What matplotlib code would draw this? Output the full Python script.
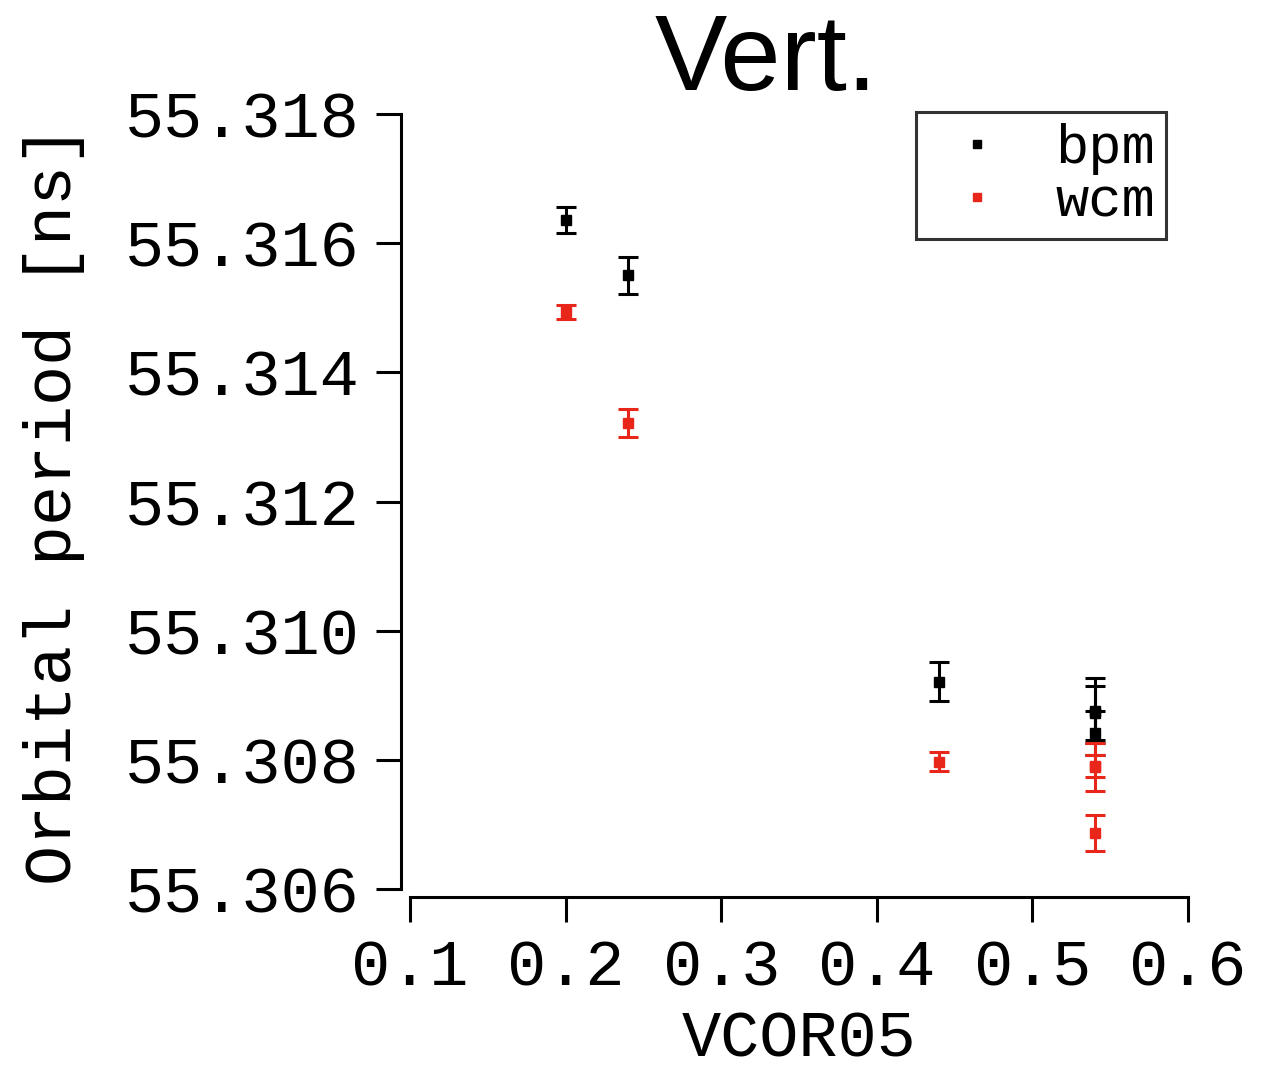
import matplotlib
matplotlib.use("Agg")
import matplotlib.pyplot as plt

# Data
bpm_x = [0.20, 0.24, 0.44, 0.54, 0.54, 0.54]
bpm_y = [55.31636, 55.31550, 55.30921, 55.30876, 55.30873, 55.30842]
bpm_err = [0.00020, 0.00028, 0.00030, 0.00050, 0.00042, 0.00034]

wcm_x = [0.20, 0.24, 0.44, 0.54, 0.54, 0.54]
wcm_y = [55.31493, 55.31322, 55.30797, 55.30789, 55.30790, 55.30687]
wcm_err = [0.00011, 0.00022, 0.00015, 0.00037, 0.00017, 0.00028]

x_ticks = [0.1, 0.2, 0.3, 0.4, 0.5, 0.6]
y_ticks = [55.306, 55.308, 55.310, 55.312, 55.314, 55.316, 55.318]

RED = "#e8261a"
MONO = "Liberation Mono"

W, H = 1271, 1067
fig = plt.figure(figsize=(W / 100, H / 100), dpi=100)
ax = fig.add_axes([410 / W, (H - 889) / H, (1188 - 410) / W, (889 - 114) / H])

for xs, ys, es, col, lab in [(bpm_x, bpm_y, bpm_err, "black", "bpm"),
                             (wcm_x, wcm_y, wcm_err, RED, "wcm")]:
    ax.errorbar(xs, ys, yerr=es, fmt="none", ecolor=col, elinewidth=2.2,
                capsize=7, capthick=2.2)
    ax.plot(xs, ys, "s", color=col, markersize=6.5, label=lab, linestyle="none")

ax.set_xlim(0.1, 0.6)
ax.set_ylim(55.306, 55.318)
ax.set_xticks(x_ticks)
ax.set_xticklabels([f"{v:.1f}" for v in x_ticks])
ax.set_yticks(y_ticks)
ax.set_yticklabels([f"{v:.3f}" for v in y_ticks])

for s in ["top", "right"]:
    ax.spines[s].set_visible(False)
ax.spines["left"].set_position(("outward", 6.5))
ax.spines["bottom"].set_position(("outward", 5.8))
for s in ["left", "bottom"]:
    ax.spines[s].set_linewidth(2.2)

ax.tick_params(axis="both", direction="out", length=18, width=2.2,
               labelsize=47, pad=12)
for lbl in ax.get_xticklabels() + ax.get_yticklabels():
    lbl.set_family(MONO)

ax.set_xlabel("VCOR05", fontsize=47, family=MONO)
ax.xaxis.set_label_coords(0.5, -0.155)
ax.set_ylabel("Orbital period [ns]", fontsize=48, family=MONO)
ax.yaxis.set_label_coords(-0.418, 0.495)

fig.text(766 / W, 1 - 90 / H, "Vert.", fontsize=78, family="Liberation Sans",
         ha="center", va="baseline")

leg = ax.legend(loc="upper right", bbox_to_anchor=(1 - 22 / 778, 1 + 2 / 775),
                borderaxespad=0, prop={"family": MONO, "size": 40},
                handlelength=1.8, handletextpad=0.5, labelspacing=0.02,
                borderpad=0.2, fancybox=False, frameon=True, markerscale=0.9)
leg.get_frame().set_edgecolor("black")
leg.get_frame().set_linewidth(2.2)

fig.savefig("out.png", dpi=100)
